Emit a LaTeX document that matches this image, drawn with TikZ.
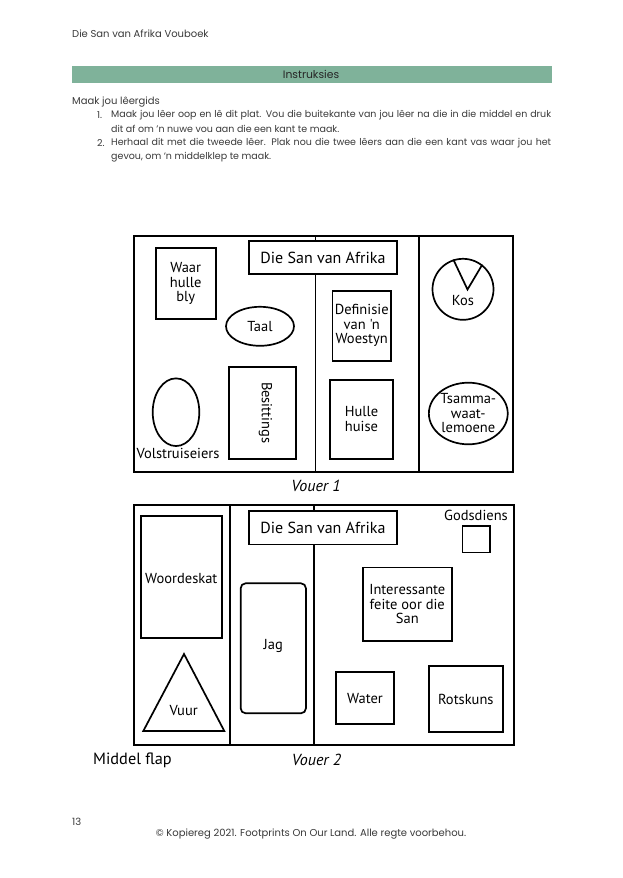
\documentclass[tikz,border=0pt]{standalone}
\usepackage{fontspec}
\setmainfont{Poppins}
\newfontfamily\dfont{PT Sans}
\usetikzlibrary{shapes.geometric}
\definecolor{barg}{HTML}{7FB29A}
\definecolor{pagetext}{HTML}{3A3A3A}
\tikzset{
  shp/.style={draw=black, line width=1.7pt, inner sep=0pt, align=center, font=\dfont\fontsize{14.5}{14.5}\selectfont},
  boxn/.style={shp, rectangle},
  ovaln/.style={shp, ellipse},
  lbl/.style={inner sep=0pt, align=center, font=\dfont\fontsize{14.5}{14.5}\selectfont},
  ttl/.style={boxn, font=\dfont\fontsize{16}{18}\selectfont},
  frame/.style={draw=black, line width=1.7pt},
  pg/.style={inner sep=0pt, anchor=west, text=pagetext, font=\fontsize{10}{12}\selectfont},
  pgl/.style={pg, font=\fontsize{9.5}{11}\selectfont},
}
\begin{document}
\begin{tikzpicture}[x=1pt,y=-1pt]
\useasboundingbox (0,0) rectangle (622,878);
\fill[white] (0,0) rectangle (622,878);
% page header
\node[pg] (hdr) at (72,34) {Die San van Afrika Vouboek};
\fill[barg] (72,66) rectangle (552,83);
\node[inner sep=0pt, text=black!85, font=\fontsize{10.8}{12}\selectfont] (instr) at (311,74.5) {Instruksies};
\node[pg] (maak) at (72,102) {Maak jou lêergids};
\node[pgl] (n1) at (97,115) {1.};
\node[pgl] (l1) at (111,115) {\makebox[440pt][s]{Maak jou lêer oop en lê dit plat. Vou die buitekante van jou lêer na die in die middel en druk}};
\node[pgl] (l2) at (111,129) {dit af om 'n nuwe vou aan die een kant te maak.};
\node[pgl] (n2) at (97,143) {2.};
\node[pgl] (l3) at (111,143) {\makebox[440pt][s]{Herhaal dit met die tweede lêer. Plak nou die twee lêers aan die een kant vas waar jou het}};
\node[pgl] (l4) at (111,157) {gevou, om ‘n middelklep te maak.};
% footer
\node[pg] (pno) at (72,822) {13};
\node[inner sep=0pt, text=pagetext, font=\fontsize{10}{12}\selectfont] (copy) at (311,834) {© Kopiereg 2021. Footprints On Our Land. Alle regte voorbehou.};

% ---------- Vouer 1 ----------
\draw[frame] (134,236) rectangle (513,472);
\node[ttl, minimum width=148pt, minimum height=33pt] (t1) at (323,257.5) {Die San van Afrika};
\coordinate (d1top) at (315.5,236);
\coordinate (d1bot) at (315.5,472);
\draw[frame] (d1top) -- (t1.north -| d1top);
\draw[frame] (t1.south -| d1top) -- (d1bot);
\draw[frame] (419,236) -- (419,472);
\node[boxn, minimum width=60pt, minimum height=70.5pt] (waar) at (185.7,283.5) {Waar\\hulle\\bly};
\node[ovaln, minimum width=68pt, minimum height=39pt] (taal) at (260,326.3) {Taal};
\node[boxn, minimum width=58.7pt, minimum height=69.7pt] (defn) at (361.7,325.8) {Definisie\\van 'n\\Woestyn};
\node[shp, circle, minimum size=61pt] (kos) at (463,289.3) {};
\node[lbl] (koslbl) at (463,301) {Kos};
\coordinate (vapex) at (467.5,289.5);
\draw[line width=1.7pt] (kos.108) -- (vapex) -- (kos.52);
\node[ovaln, minimum width=46.6pt, minimum height=67.7pt] (eier) at (176,412.2) {};
\node[lbl] (eierlbl) at (178,453) {Volstruiseiers};
\node[boxn, minimum width=66.4pt, minimum height=92pt] (besit) at (262.5,412.7) {};
\node[lbl, rotate=-90] (besitlbl) at (265.5,412.7) {Besittings};
\node[boxn, minimum width=62.4pt, minimum height=79pt] (huise) at (361.5,419.2) {Hulle\\huise};
\node[ovaln, minimum width=66.7pt, minimum height=61.6pt] (tsam) at (468.3,413.5) {Tsamma-\\waat-\\lemoene};
\node[lbl, font=\dfont\itshape\fontsize{16}{18}\selectfont] (v1) at (316,486) {Vouer 1};

% ---------- Vouer 2 ----------
\draw[frame] (134.3,505) rectangle (514.3,745);
\draw[frame] (229.7,505) -- (229.7,745);
\node[ttl, minimum width=147.4pt, minimum height=33.3pt] (t2) at (323,527.7) {Die San van Afrika};
\coordinate (d2top) at (314.3,505);
\coordinate (d2bot) at (314.3,745);
\draw[frame] (d2top) -- (t2.north -| d2top);
\draw[frame] (t2.south -| d2top) -- (d2bot);
\node[boxn, minimum width=80.7pt, minimum height=122.6pt] (woord) at (181.3,577) {};
\node[lbl] (woordlbl) at (181.3,579) {Woordeskat};
\coordinate (tra) at (184,654);
\coordinate (trl) at (143.3,731);
\coordinate (trr) at (224.3,731);
\draw[frame, line join=miter] (tra) -- (trl) -- (trr) -- cycle;
\node[lbl] (vuur) at (183.7,710.7) {Vuur};
\node[boxn, rounded corners=5pt, minimum width=65.3pt, minimum height=130pt] (jag) at (273.3,648.3) {};
\node[lbl] (jaglbl) at (273.3,645.7) {Jag};
\node[lbl] (gods) at (476,515.7) {Godsdiens};
\node[boxn, minimum width=27.7pt, minimum height=26.3pt] (godsbox) at (476.2,539.2) {};
\node[boxn, minimum width=88.7pt, minimum height=73.7pt] (inter) at (407.3,604.2) {Interessante\\feite oor die\\San};
\node[boxn, minimum width=58.6pt, minimum height=52pt] (water) at (365,698.3) {Water};
\node[boxn, minimum width=73.7pt, minimum height=66pt] (rots) at (465.8,699) {Rotskuns};
\node[lbl, anchor=west, font=\dfont\fontsize{16.3}{18}\selectfont] (mid) at (93,760) {Middel flap};
\node[lbl, font=\dfont\itshape\fontsize{16}{18}\selectfont] (v2) at (316.5,760) {Vouer 2};
\end{tikzpicture}
\end{document}
